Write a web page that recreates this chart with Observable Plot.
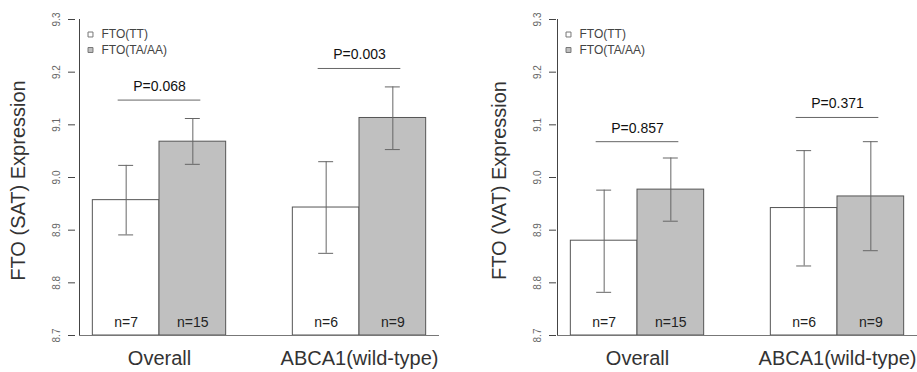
<!DOCTYPE html>
<html><head><meta charset="utf-8">
<script src="https://cdn.jsdelivr.net/npm/d3@7"></script>
<script src="https://cdn.jsdelivr.net/npm/@observablehq/plot@0.6"></script>
<style>body{margin:0;background:#fff}#wrap{display:flex;width:917px;height:372px;overflow:hidden}</style>
</head><body><div id="wrap"></div>
<script>
const groups = ["Overall", "ABCA1(wild-type)"];
const alleles = ["FTO(TT)", "FTO(TA/AA)"];
const nCounts = [7, 15, 6, 9];
const yTicks = [8.7, 8.8, 8.9, 9.0, 9.1, 9.2, 9.3];

const satMean = [8.957, 9.068, 8.943, 9.113];
const satLo   = [8.891, 9.025, 8.856, 9.053];
const satHi   = [9.023, 9.112, 9.030, 9.172];
const satP    = ["P=0.068", "P=0.003"];
const satPy   = [9.147, 9.207];

const vatMean = [8.880, 8.977, 8.942, 8.964];
const vatLo   = [8.782, 8.917, 8.832, 8.861];
const vatHi   = [8.976, 9.037, 9.051, 9.068];
const vatP    = ["P=0.857", "P=0.371"];
const vatPy   = [9.068, 9.114];

const fills = {"FTO(TT)": "#ffffff", "FTO(TA/AA)": "#c0c0c0"};

function panel({width, marginLeft, marginRight, title, mean, lo, hi, pText, pY, titleDx, tickDx}) {
  const xDomain = [0.8, 6.2], yDomain = [8.7, 9.3];
  const rows = mean.map((m, i) => {
    const g = Math.floor(i / 2), a = i % 2, x1 = 1 + g * 3 + a;
    return {group: groups[g], allele: alleles[a], x1, x2: x1 + 1, xc: x1 + 0.5,
            mean: m, lo: lo[i], hi: hi[i], n: "n=" + nCounts[i]};
  });
  const pRows = groups.map((g, i) => ({xc: 2 + 3 * i, x1: 1.38 + 3 * i, x2: 2.62 + 3 * i, y: pY[i], text: pText[i]}));
  const font = "'Liberation Sans', Arial, sans-serif";
  return Plot.plot({
    width, height: 372, marginLeft, marginRight, marginTop: 19, marginBottom: 37,
    style: {fontFamily: font, background: "white", overflow: "visible"},
    x: {type: "linear", domain: xDomain, label: null},
    y: {domain: yDomain, label: null},
    marks: [
      Plot.rect(rows, {x1: "x1", x2: "x2", y1: yDomain[0], y2: "mean", fill: d => fills[d.allele], stroke: "#555", strokeWidth: 1}),
      Plot.ruleX(rows, {x: "xc", y1: "lo", y2: "hi", stroke: "#666", strokeWidth: 1}),
      Plot.ruleY(rows, {y: "lo", x1: d => d.xc - 0.112, x2: d => d.xc + 0.112, stroke: "#666", strokeWidth: 1}),
      Plot.ruleY(rows, {y: "hi", x1: d => d.xc - 0.112, x2: d => d.xc + 0.112, stroke: "#666", strokeWidth: 1}),
      Plot.text(rows, {x: "xc", y: yDomain[0], dy: -13, text: "n", fontSize: 14, fill: "#222", lineAnchor: "middle"}),
      Plot.ruleY(pRows, {y: "y", x1: "x1", x2: "x2", stroke: "#666", strokeWidth: 1}),
      Plot.text(pRows, {x: "xc", y: "y", dy: -13.5, text: "text", fontSize: 14, fill: "#111", lineAnchor: "middle"}),
      Plot.ruleX([xDomain[0]], {stroke: "#444", strokeWidth: 1}),
      Plot.ruleY([yDomain[0]], {stroke: "#777", strokeWidth: 1}),
      Plot.axisY({ticks: yTicks, tickSize: 7, tickRotate: -90, tickPadding: 12, tickFormat: d => d.toFixed(1), fontSize: 10, fill: "#666", stroke: "#444", textAnchor: "middle", lineAnchor: "middle", dx: tickDx + 22}),
      Plot.axisX({ticks: [2, 5], tickFormat: d => groups[(d - 2) / 3], tickSize: 0, tickPadding: 15, fontSize: 20, fill: "#333", stroke: null}),
      Plot.text([title], {frameAnchor: "left", dx: titleDx, dy: 3, rotate: -90, fontSize: 20, fill: "#333", lineAnchor: "middle", textAnchor: "middle"}),
      Plot.dot([alleles[0]], {frameAnchor: "top-left", dx: 11, dy: 15, symbol: "square", r: 2.8, fill: fills[alleles[0]], stroke: "#777", strokeWidth: 1}),
      Plot.dot([alleles[1]], {frameAnchor: "top-left", dx: 11, dy: 30.5, symbol: "square", r: 2.8, fill: fills[alleles[1]], stroke: "#777", strokeWidth: 1}),
      Plot.text([alleles[0]], {frameAnchor: "top-left", dx: 22, dy: 15, text: d => d, fontSize: 12, fill: "#444", textAnchor: "start", lineAnchor: "middle"}),
      Plot.text([alleles[1]], {frameAnchor: "top-left", dx: 22, dy: 31, text: d => d, fontSize: 12, fill: "#444", textAnchor: "start", lineAnchor: "middle"})
    ]
  });
}

const wrap = document.getElementById("wrap");
wrap.append(panel({width: 458, marginLeft: 79, marginRight: 19, title: "FTO (SAT) Expression",
  mean: satMean, lo: satLo, hi: satHi, pText: satP, pY: satPy, titleDx: -61, tickDx: -26}));
wrap.append(panel({width: 459, marginLeft: 99, marginRight: 0, title: "FTO (VAT) Expression",
  mean: vatMean, lo: vatLo, hi: vatHi, pText: vatP, pY: vatPy, titleDx: -58, tickDx: -23}));
</script>
</body></html>
